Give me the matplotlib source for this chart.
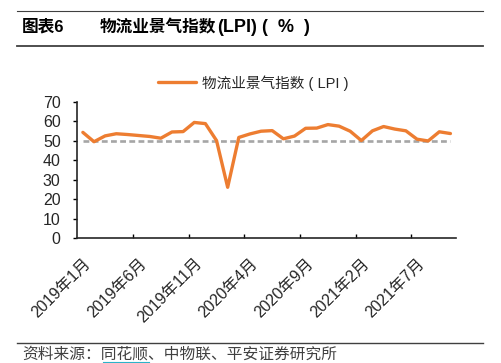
import matplotlib
matplotlib.use('Agg')
import matplotlib.pyplot as plt
from matplotlib.lines import Line2D

# LPI monthly values, 2019-01 .. 2021-10
lpi = [54.4, 49.6, 52.6, 53.7, 53.3, 52.8, 52.3, 51.4, 54.6, 54.8,
       59.5, 58.9, 50.2, 26.2, 51.8, 53.6, 55.0, 55.3, 51.1, 52.5,
       56.5, 56.6, 58.4, 57.6, 55.0, 50.2, 55.2, 57.4, 56.1, 55.2,
       50.9, 50.0, 54.7, 53.8]
baseline = [50] * len(lpi)
tick_labels = ['2019年1月', '2019年6月', '2019年11月', '2020年4月',
               '2020年9月', '2021年2月', '2021年7月']
series_name = '物流业景气指数 ( LPI )'

plt.rcParams['font.family'] = ['Liberation Sans', 'Noto Sans CJK SC']
plt.rcParams['lines.scale_dashes'] = False

W, H = 502, 363
fig = plt.figure(figsize=(W / 100, H / 100), dpi=100)
ax = fig.add_axes([77.3 / W, 1 - 238.3 / H, (456 - 77.3) / W, (238.3 - 102) / H])

x = list(range(len(lpi)))
ax.plot(x, baseline, color='#A6A6A6', lw=1.9, dashes=(4.2, 2.4), zorder=2)
line, = ax.plot(x, lpi, color='#ED7D31', lw=2.4, solid_joinstyle='round',
                solid_capstyle='round', zorder=3)

ax.set_xlim(-0.5, len(lpi) - 0.5)
ax.set_ylim(0, 70)
ax.set_yticks(range(0, 71, 10))

# labels centred on categories, tick marks on category boundaries
ax.set_xticks(range(0, len(lpi), 5))
ax.set_xticklabels(tick_labels, rotation=45, ha='right', va='top',
                   rotation_mode='anchor', fontsize=11.5, color='#262626')
ax.set_xticks([i - 0.5 for i in range(5, len(lpi), 5)], minor=True)
ax.tick_params(axis='x', which='major', length=0, pad=12.5)
ax.tick_params(axis='x', which='minor', direction='in', length=3, width=1)
ax.tick_params(axis='y', direction='out', length=3, width=1, pad=9,
               labelsize=11.5, labelcolor='#262626')

for s in ['top', 'right']:
    ax.spines[s].set_visible(False)
for s in ['left', 'bottom']:
    ax.spines[s].set_linewidth(1.2)
    ax.spines[s].set_color('#262626')

fig.legend([line], [series_name], loc='center left', bbox_to_anchor=(158 / W, 1 - 82.7 / H),
           frameon=False, fontsize=10.5, handlelength=2.6, handletextpad=0.45,
           labelcolor='#262626', borderaxespad=0, borderpad=0)

# title block
fig.add_artist(Line2D([17 / W, 483 / W], [1 - 10.7 / H] * 2, color='#404040', lw=0.8))
fig.add_artist(Line2D([17 / W, 483 / W], [1 - 46 / H] * 2, color='#404040', lw=1.3))
fig.text(22 / W, 1 - 27 / H, '图表6', fontsize=12, weight='bold', va='center')
fig.text(100 / W, 1 - 27 / H, '物流业景气指数', fontsize=12, weight='bold', va='center')
fig.text(217 / W, 1 - 27 / H, '(LPI)', fontsize=13, weight='bold', va='center')
fig.text(262 / W, 1 - 27 / H, '(  %  )', fontsize=13, weight='bold', va='center')

# source
fig.add_artist(Line2D([17 / W, 483 / W], [1 - 342.7 / H] * 2, color='#404040', lw=1.0))
fig.text(22 / W, 1 - 354 / H, '资料来源：同花顺、中物联、平安证券研究所', fontsize=11.3,
         va='center', color='#404040')
fig.add_artist(Line2D([103 / W, 149 / W], [1 - 361.5 / H] * 2, color='#2BB3C9', lw=0.8))

fig.savefig('out.png', dpi=100)
